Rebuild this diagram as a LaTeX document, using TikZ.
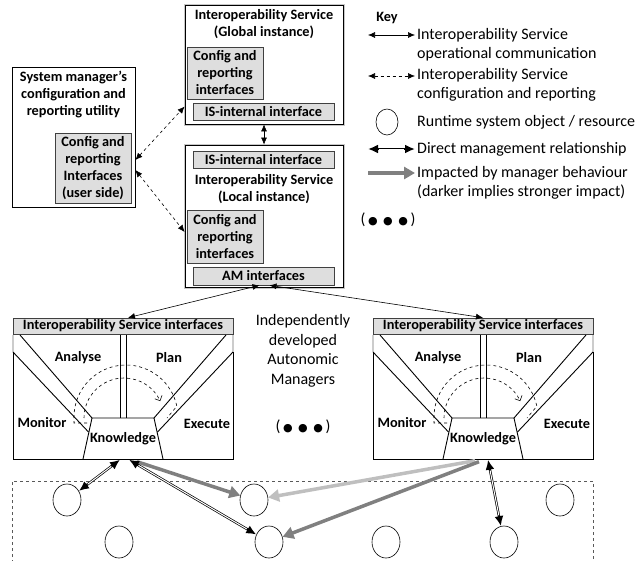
\documentclass[tikz,border=0pt]{standalone}
\usepackage{fontspec}
\setmainfont{Carlito}
\newfontfamily\dotfont{DejaVu Sans}
\usetikzlibrary{arrows.meta,shapes.geometric}

\begin{document}
\begin{tikzpicture}[x=1pt, y=1pt,
    every node/.style={font=\fontsize{16}{19.5}\selectfont},
    boldtxt/.style={font=\fontsize{14.3}{17}\selectfont\bfseries, align=center, inner sep=0},
    isbox/.style={draw, line width=0.8pt, preaction={draw=black!22, line width=3pt},
      fill=white, minimum width=158, inner sep=0},
    ifbox/.style={draw=black!75, line width=0.6pt, fill=black!13, inner sep=0,
      align=center, font=\fontsize{14.3}{17}\selectfont\bfseries},
    keytxt/.style={anchor=west, align=left, inner sep=0},
    res/.style={ellipse, draw, line width=0.6pt, minimum width=28, minimum height=32, inner sep=0},
    amline/.style={line width=0.9pt},
    comm/.style={line width=0.6pt, {Latex[length=7pt,width=6pt]}-{Latex[length=7pt,width=6pt]}},
    cfgrep/.style={comm, dashed},
    mgmt/.style={line width=2.4pt, {Latex[length=10pt,width=9pt]}-{Latex[length=10pt,width=9pt]},
      postaction={draw=white, line width=1pt, arrows=-, shorten >=11pt, shorten <=11pt}},
    impact/.style={line width=3.5pt, -{Triangle[length=11pt,width=12pt]}},
    loop/.style={dashed, line width=0.6pt},
  ]
  \useasboundingbox (0,0) rectangle (639,-560);
  % interoperability service, global and local
  \node[isbox, minimum height=119] (isG) at (264,-64.5) {};
  \node[boldtxt] (isGt) at (264,-24) {Interoperability Service\\(Global instance)};
  \node[ifbox, minimum width=76, minimum height=52] (cfgG) at (225,-73) {Config and\\reporting\\interfaces};
  \node[ifbox, minimum width=141, minimum height=17] (intG) at (263.5,-112) {IS-internal interface};

  \node[isbox, minimum height=142] (isL) at (264,-216) {};
  \node[ifbox, minimum width=141, minimum height=17] (intL) at (263.5,-159.5) {IS-internal interface};
  \node[boldtxt] (isLt) at (264,-189) {Interoperability Service\\(Local instance)};
  \node[ifbox, minimum width=76, minimum height=53] (cfgL) at (225,-236.5) {Config and\\reporting\\interfaces};
  \node[ifbox, minimum width=141, minimum height=18] (amL) at (263.5,-276) {AM interfaces};

  % system manager utility
  \node[draw, line width=0.8pt, minimum width=123, minimum height=140, inner sep=0] (sys) at (73.5,-137) {};
  \node[boldtxt] (sysT) at (73.5,-95) {System manager's\\configuration and\\reporting utility};
  \node[ifbox, minimum width=76, minimum height=70] (sysCfg) at (93,-168) {Config and\\reporting\\Interfaces\\(user side)};

  \draw[cfgrep] ([yshift=-23pt]sys.east) -- ([yshift=-42pt]isG.west);
  \draw[cfgrep] ([yshift=-33pt]sys.east) -- ([yshift=-16pt]isL.west);
  \draw[comm] (isG.south) -- (isL.north);

  % autonomic managers
  \foreach \s/\dx in {L/0, R/360} {
    \begin{scope}[xshift=\dx pt]
      \node[ifbox, minimum width=220, minimum height=16] (hdr\s) at (123,-326) {Interoperability Service interfaces};
      \draw[black!20, line width=2pt] (13,-335) -- (13,-352) (233,-335) -- (233,-352);
      \draw[amline] (13,-352) -- (13,-459) -- (233,-459) -- (233,-352);
      \draw[amline] (20,-335) -- (92,-418) (13,-352) -- (88.5,-432);
      \draw[amline] (226,-335) -- (154,-418) (233,-352) -- (157.5,-432);
      \draw[amline] (120,-335) -- (120,-418) (126,-335) -- (126,-418);
      \draw[amline] (83,-459) -- (92,-418) -- (154,-418) -- (163,-459);
      \node[boldtxt] (ana\s) at (78,-358) {Analyse};
      \node[boldtxt] (pln\s) at (169,-358) {Plan};
      \node[boldtxt] (mon\s) at (42,-423) {Monitor};
      \node[boldtxt] (exe\s) at (207,-424) {Execute};
      \node[boldtxt, minimum width=80, minimum height=41] (know\s) at (123,-439) {Knowledge};
      \draw[loop] (87,-423) -- (74,-423) -- (74,-417) arc[start angle=180, end angle=12, radius=52]
        -- (167,-418);
      \draw[loop, -{Straight Barb[length=4pt]}] (84,-418) arc[start angle=180, end angle=25, radius=40];
    \end{scope}
  }
  \draw[comm] ([xshift=-4pt]amL.south) -- ([xshift=5pt]hdrL.north);
  \draw[comm] ([xshift=6pt]amL.south) -- (hdrR.north);

  \node (amT) at (303,-351) {\begin{tabular}{@{}c@{}}Independently\\developed\\Autonomic\\Managers\end{tabular}};
  \node (amDots) at (303,-427) {(\,{\dotfont\fontsize{11}{11}\selectfont ●\enspace●\enspace●}\,)};

  % runtime system
  \draw[dashed, black!65, line width=0.6pt] (12,-575) -- (12,-481) -- (593,-481) -- (593,-575);
  \node[res] (res1) at (67,-500) {};
  \node[res] (res2) at (254,-500) {};
  \node[res] (res3) at (560,-500) {};
  \node[res] (res4) at (119,-542) {};
  \node[res] (res5) at (269,-542) {};
  \node[res] (res6) at (386,-542) {};
  \node[res] (res7) at (504,-542) {};

  \draw[impact, black!50] ([xshift=14pt,yshift=-2pt]knowL.south) -- (res2);
  \draw[impact, black!25] ([xshift=-8pt,yshift=-1pt]knowR.south) -- (res2);
  \draw[impact, black!50] ([xshift=-4pt,yshift=-2pt]knowR.south) -- (res5);
  \draw[mgmt] ([xshift=-3pt]knowL.south) -- (res1);
  \draw[mgmt] ([xshift=6pt]knowL.south) -- (res5);
  \draw[mgmt] ([xshift=5pt]knowR.south) -- (res7);

  % key
  \node[boldtxt] (keyT) at (387,-18) {Key};
  \coordinate (ka1) at (368,-35); \coordinate (ka2) at (415,-35);
  \coordinate (kb1) at (368,-76); \coordinate (kb2) at (415,-76);
  \coordinate (kc1) at (368,-149); \coordinate (kc2) at (415,-149);
  \coordinate (kd1) at (368,-173); \coordinate (kd2) at (415,-173);
  \draw[comm] (ka1) -- (ka2);
  \draw[cfgrep] (kb1) -- (kb2);
  \node[res, minimum width=22, minimum height=26] (kRes) at (387,-122) {};
  \draw[mgmt] (kc1) -- (kc2);
  \draw[impact, black!50] (kd1) -- (kd2);
  \node[keytxt] (kaT) at (417,-45) {\begin{tabular}{@{}l@{}}Interoperability Service\\operational communication\end{tabular}};
  \node[keytxt] (kbT) at (417,-85) {\begin{tabular}{@{}l@{}}Interoperability Service\\configuration and reporting\end{tabular}};
  \node[keytxt] (kcT) at (417,-122) {Runtime system object / resource};
  \node[keytxt] (kdT) at (417,-149) {Direct management relationship};
  \node[keytxt] (keT) at (417,-183) {\begin{tabular}{@{}l@{}}Impacted by manager behaviour\\(darker implies stronger impact)\end{tabular}};
  \node (kDots) at (388,-220) {(\,{\dotfont\fontsize{11}{11}\selectfont ●\enspace●\enspace●}\,)};
\end{tikzpicture}
\end{document}
